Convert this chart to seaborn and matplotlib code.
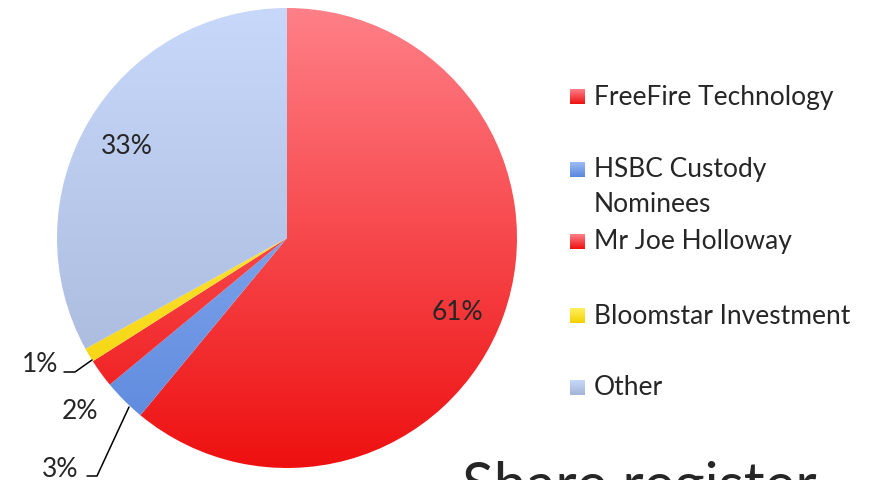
import numpy as np
import matplotlib
matplotlib.use("Agg")
import matplotlib.pyplot as plt
import seaborn as sns
from matplotlib.colors import LinearSegmentedColormap

sns.set_theme(style="white")
plt.rcParams['font.family'] = ['Lato', 'DejaVu Sans']

# ---- data ----
holders = ["FreeFire Technology", "HSBC Custody\nNominees", "Mr Joe Holloway",
           "Bloomstar Investment", "Other"]
shares = [61, 3, 2, 1, 33]
pct_labels = ["61%", "3%", "2%", "1%", "33%"]
title = "Share register"

# gradient colours (top, bottom) per slice
grad_top = ["#FF8088", "#9CBCF6", "#FF8088", "#FFF060", "#C8D8FA"]
grad_bot = ["#EE1010", "#5A86DC", "#EE1010", "#F5D000", "#A4B4D6"]

W, H = 870, 481
fig = plt.figure(figsize=(W / 100, H / 100), dpi=100)
ax = fig.add_axes([0, 0, 1, 1])

cx, cy, r = 287, H - 239, 230
wedges, _ = ax.pie(shares, startangle=90, counterclock=False,
                   center=(cx, cy), radius=r, frame=True,
                   wedgeprops=dict(linewidth=0, edgecolor='none'))
ax.set_xlim(0, W)
ax.set_ylim(0, H)
ax.set_aspect('equal')
ax.axis('off')

grad = np.linspace(1, 0, 256).reshape(-1, 1)
for w, ct, cb in zip(wedges, grad_top, grad_bot):
    cmap = LinearSegmentedColormap.from_list("g", [cb, ct])
    w.set_facecolor('none')
    im = ax.imshow(grad, cmap=cmap, extent=(cx - r, cx + r, cy - r, cy + r),
                   aspect='auto', origin='upper', zorder=1, interpolation='bilinear')
    im.set_clip_path(w)

fs = 19
# percentage labels
ax.text(457, H - 313, pct_labels[0], fontsize=fs, ha='center', va='center', zorder=5)
ax.text(127, H - 147, pct_labels[4], fontsize=fs, ha='center', va='center', zorder=5)
ax.text(40, H - 365, pct_labels[3], fontsize=fs, ha='center', va='center', zorder=5)
ax.text(80, H - 412, pct_labels[2], fontsize=fs, ha='center', va='center', zorder=5)
ax.text(60, H - 470, pct_labels[1], fontsize=fs, ha='center', va='center', zorder=5)
# leader lines
ax.plot([64, 75, 92], [H - 373, H - 373, H - 361], color='black', lw=1.1, zorder=5)
ax.plot([87, 97, 129], [H - 477, H - 477, H - 408], color='black', lw=1.1, zorder=5)

# legend (manual)
leg_y = [97, 170, 242, 316, 388]
for lab, ct, cb, y in zip(holders, grad_top, grad_bot, leg_y):
    cmap = LinearSegmentedColormap.from_list("g", [cb, ct])
    ax.imshow(grad, cmap=cmap, extent=(570, 585, H - y - 7.5, H - y + 7.5),
              aspect='auto', origin='upper', zorder=3)
    lines = lab.split('\n')
    for k, ln in enumerate(lines):
        ax.text(594, H - y - 35 * k, ln, fontsize=fs, ha='left', va='center', zorder=5)

ax.text(462, H - 504, title, fontsize=42, ha='left', va='baseline', zorder=5)

fig.savefig("out.png", dpi=100)
